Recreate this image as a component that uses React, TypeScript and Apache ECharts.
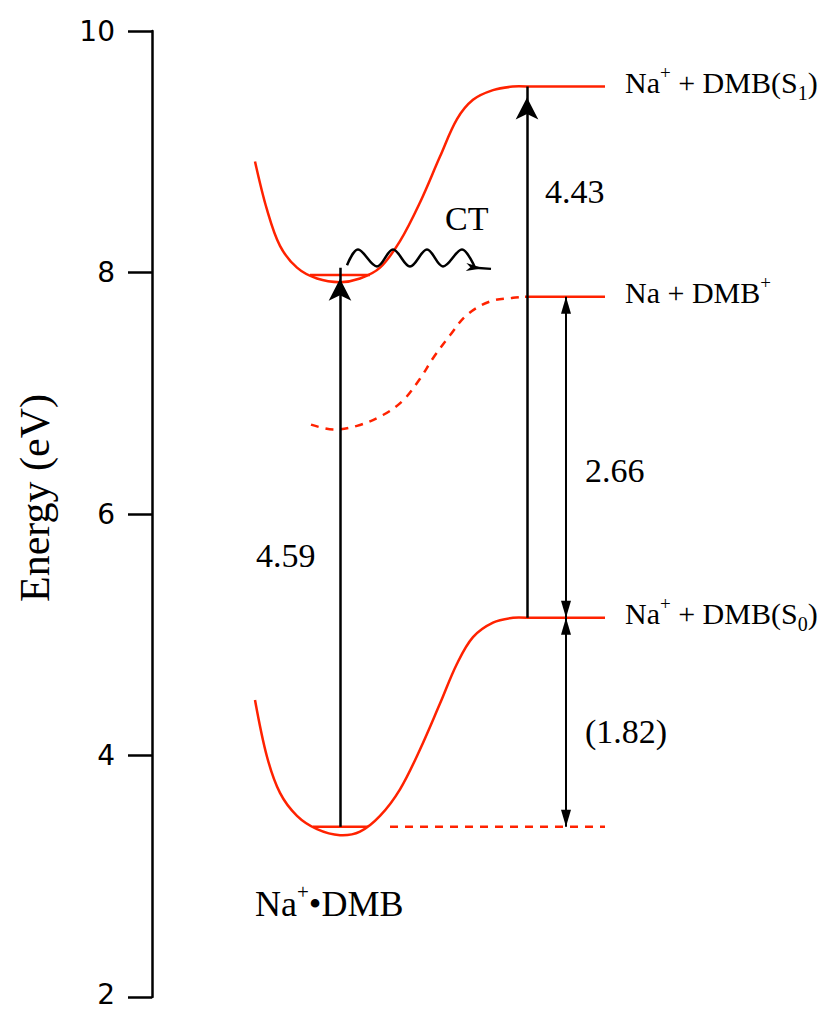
import React, { useEffect, useRef } from "react";
import * as echarts from "echarts";

// Energy axis ticks (eV)
const yTicks = [2, 4, 6, 8, 10];

// Energy levels (eV)
const levelS1 = 9.54; // Na+ + DMB(S1)
const levelCT = 7.8; // Na + DMB+
const levelS0 = 5.14; // Na+ + DMB(S0)
const levelGS = 3.41; // Na+•DMB ground vibrational level
const levelEx = 7.98; // excited vibrational level

// Potential curves: [reaction coordinate, energy]
const upperCurve: [number, number][] = [
  [10.3, 8.92], [11.5, 8.52], [12.8, 8.22], [14.5, 8.04], [16.5, 7.95], [18.8, 7.92],
  [20.8, 7.95], [22.8, 8.04], [24.8, 8.26], [26.8, 8.58], [28.8, 8.96], [30.5, 9.27],
  [32.1, 9.43], [34.1, 9.51], [36.1, 9.54], [37.5, 9.54],
];
const lowerCurve: [number, number][] = [
  [10.3, 4.46], [11.5, 3.99], [12.8, 3.69], [14.5, 3.5], [16.5, 3.39], [18.8, 3.34],
  [20.8, 3.37], [22.8, 3.5], [24.8, 3.72], [26.8, 4.05], [28.8, 4.43], [30.5, 4.76],
  [32.1, 4.98], [34.1, 5.1], [36.1, 5.14], [37.5, 5.14],
];
const ctCurve: [number, number][] = [
  [15.9, 6.74], [18.1, 6.7], [20.5, 6.73], [23.1, 6.82], [25.1, 6.94], [26.8, 7.12],
  [28.1, 7.29], [29.8, 7.48], [31.5, 7.65], [33.8, 7.76], [36.1, 7.79], [37.3, 7.8],
];
// Level lines
const s1Line: [number, number][] = [[37.5, levelS1], [45.3, levelS1]];
const ctLine: [number, number][] = [[37.3, levelCT], [45.3, levelCT]];
const s0Line: [number, number][] = [[37.5, levelS0], [45.3, levelS0]];
const gsDashed: [number, number][] = [[23.8, levelGS], [45.3, levelGS]];
const exVib: [number, number][] = [[15.8, levelEx], [21.8, levelEx]];
const gsVib: [number, number][] = [[16.1, levelGS], [21.6, levelGS]];
// Wavy CT arrow (peaks and troughs)
const wave: [number, number][] = [
  [19.5, 8.06], [20.6, 8.19], [22.5, 8.05], [24.1, 8.19], [25.8, 8.05], [27.5, 8.19],
  [29.1, 8.05], [31.0, 8.19], [32.3, 8.04],
];
const waveHead: [number, number][] = [[32.3, 8.04], [33.9, 8.03]];
// Transition arrows: [x, from, to]
const arrow459: [number, number, number] = [18.8, levelGS, 8.04];
const arrow443: [number, number, number] = [37.5, levelS0, levelS1];
const arrow266: [number, number, number] = [41.4, levelS0, levelCT];
const arrow182: [number, number, number] = [41.4, levelGS, levelS0];

const RED = "#ff2200";
const SERIF = "'Liberation Serif', 'Times New Roman', serif";

const rich = {
  n: { fontSize: 30, fontFamily: SERIF, color: "#000", lineHeight: 40 },
  sup: { fontSize: 19, fontFamily: SERIF, color: "#000", lineHeight: 37, verticalAlign: "top" },
  sub: { fontSize: 20, fontFamily: SERIF, color: "#000", lineHeight: 17, verticalAlign: "bottom" },
};

function levelSeries(data: [number, number][], label: string) {
  return {
    type: "line",
    data,
    symbol: "none",
    silent: true,
    lineStyle: { color: RED, width: 2.5 },
    endLabel: { show: true, distance: 20, formatter: () => label, rich, offset: [0, -4] },
  };
}

// Smooth curve drawn through the read points (coordinates via the axes' scales)
function curve(data: [number, number][], color: string, dashed = false, extra: any = {}) {
  return {
    type: "custom",
    data,
    silent: true,
    encode: { x: 0, y: 1 },
    renderItem: (params: any, api: any) => {
      if (params.dataIndex !== 0) return { type: "group", children: [] };
      const pts = data.map((p) => api.coord(p));
      return {
        type: "polyline",
        shape: { points: pts, smooth: 0.35 },
        style: { stroke: color, lineWidth: 2.5, fill: null, lineDash: dashed ? [8, 7] : null },
      };
    },
    ...extra,
  };
}

function vline(a: [number, number, number]) {
  return [{ coord: [a[0], a[1]] }, { coord: [a[0], a[2]] }];
}

export default function App() {
  const ref = useRef<HTMLDivElement>(null);
  useEffect(() => {
    if (!ref.current) return;
    const chart = echarts.init(ref.current, null, { renderer: "svg" });
    const numStyle = (text: string, x: number, y: number) => ({
      type: "text",
      x,
      y,
      silent: true,
      style: { text, fontSize: 34, fontFamily: SERIF, fill: "#000", align: "left", verticalAlign: "middle" },
    });
    chart.setOption({
      animation: false,
      grid: { left: 152, right: 0, top: 31, bottom: 13 },
      xAxis: { type: "value", min: 0, max: 68, show: false },
      yAxis: {
        type: "value",
        min: yTicks[0],
        max: yTicks[yTicks.length - 1],
        interval: 2,
        name: "Energy (eV)",
        nameLocation: "middle",
        nameGap: 96,
        nameTextStyle: { fontSize: 42, fontFamily: SERIF, color: "#000", padding: [0, 0, 0, 32] },
        axisLine: { show: true, lineStyle: { color: "#000", width: 2.5 } },
        axisTick: { show: true, inside: false, length: 24, lineStyle: { color: "#000", width: 2.5 } },
        axisLabel: {
          fontSize: 28, lineHeight: 22, fontFamily: "'DejaVu Sans', sans-serif", color: "#000", margin: 37,
          formatter: (v: number) => (v === yTicks[0] ? `{b|${v}}` : `${v}`),
          rich: { b: { fontSize: 28, lineHeight: 22, fontFamily: "'DejaVu Sans', sans-serif", color: "#000", padding: [0, 0, 6, 0] } },
        },
        splitLine: { show: false },
      },
      series: [
        curve(upperCurve, RED),
        curve(lowerCurve, RED),
        curve(ctCurve, RED, true),
        levelSeries(s1Line, "{n|Na}{sup|+}{n| + DMB(S}{sub|1}{n|)}"),
        levelSeries(ctLine, "{n|Na + DMB}{sup|+}"),
        levelSeries(s0Line, "{n|Na}{sup|+}{n| + DMB(S}{sub|0}{n|)}"),
        {
          type: "line", data: gsDashed, symbol: "none", silent: true,
          lineStyle: { color: RED, width: 2.5, type: [8, 7] },
        },
        { type: "line", data: exVib, symbol: "none", silent: true, lineStyle: { color: RED, width: 2.5 } },
        { type: "line", data: gsVib, symbol: "none", silent: true, lineStyle: { color: RED, width: 2.5 } },
        curve(wave, "#000", false, {
          markLine: {
            silent: true, animation: false,
            symbol: ["none", "arrow"], symbolSize: [6, 17],
            symbolOffset: [0, [0, 8]],
            label: { show: false },
            lineStyle: { color: "#000", width: 2.5, type: "solid" },
            data: [[{ coord: waveHead[0] }, { coord: waveHead[1] }]],
          },
        }),
        {
          type: "line", data: [], symbol: "none",
          markLine: {
            silent: true, animation: false,
            symbol: ["none", "arrow"], symbolSize: [17, 22],
            symbolOffset: [0, [0, 11]],
            label: { show: false },
            lineStyle: { color: "#000", width: 2.5, type: "solid" },
            data: [vline(arrow459), vline(arrow443)],
          },
        },
        {
          type: "line", data: [], symbol: "none",
          markLine: {
            silent: true, animation: false,
            symbol: ["triangle", "triangle"], symbolSize: [10, 17],
            symbolOffset: [[0, 8.5], [0, 8.5]],
            label: { show: false },
            lineStyle: { color: "#000", width: 2, type: "solid" },
            data: [vline(arrow266), vline(arrow182)],
          },
        },
      ],
      graphic: [
        numStyle("4.59", 256, 555),
        numStyle("4.43", 545, 191),
        numStyle("CT", 445, 218),
        numStyle("2.66", 585, 470),
        numStyle("(1.82)", 585, 731),
        {
          type: "text", x: 255, y: 904, silent: true,
          style: {
            text: "{n|Na}{sup|+}{n|•DMB}",
            rich: {
              n: { fontSize: 36, fontFamily: SERIF, fill: "#000", lineHeight: 46 },
              sup: { fontSize: 21, fontFamily: SERIF, fill: "#000", lineHeight: 42, verticalAlign: "top" },
            },
            align: "left", verticalAlign: "middle",
          },
        },
      ],
    });
    return () => chart.dispose();
  }, []);
  return <div ref={ref} style={{ position: "fixed", left: 0, top: 0, width: 832, height: 1014, background: "#fff" }} />;
}
